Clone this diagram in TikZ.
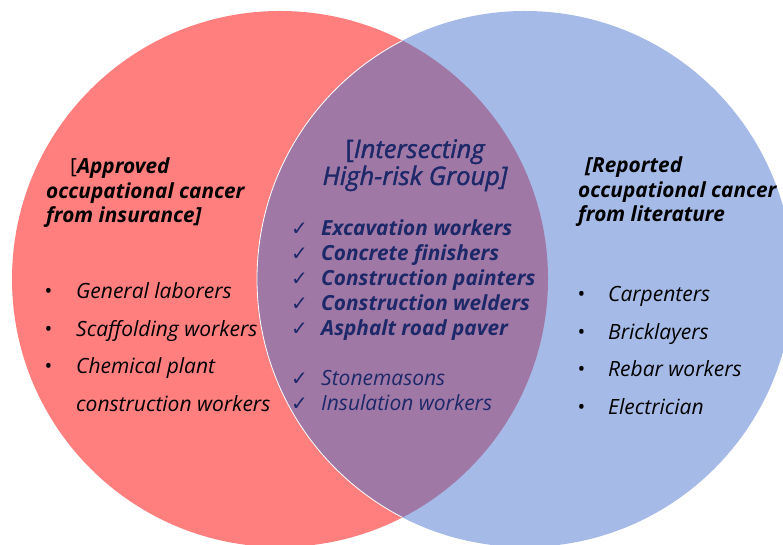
\documentclass[tikz,border=0pt]{standalone}
\usepackage{fontspec}
\setmainfont{Open Sans}
\newfontfamily\medfont{Open Sans}[FakeBold=1.5]
\newfontfamily\symfont{DejaVu Sans}
\usetikzlibrary{positioning}

\definecolor{vennred}{RGB}{255,127,127}
\definecolor{vennblue}{RGB}{165,186,230}
\definecolor{vennmix}{RGB}{160,120,166}
\definecolor{navy}{RGB}{28,40,104}

\newcommand{\bul}[1]{\makebox[#1][l]{\textbullet}}
\newcommand{\chk}{\makebox[30pt][l]{\symfont\mdseries\upshape\fontsize{20}{20}\selectfont ✓}}

\begin{document}
\begin{tikzpicture}[x=1pt,y=1pt,
    head/.style={align=left, inner sep=0pt,
      font=\fontsize{20.8}{24.5}\selectfont\bfseries\itshape},
    listitem/.style={inner sep=0pt, anchor=base west,
      font=\fontsize{21}{24}\selectfont\itshape},
    checkitem/.style={listitem, text=navy,
      font=\fontsize{20.8}{24}\selectfont\bfseries\itshape}]
  \useasboundingbox (0,0) rectangle (783,545);
  \coordinate (RED) at (280,266);
  \coordinate (BLUE) at (525,266);

  % CIRCLES
  \fill[vennred] (RED) circle[radius=268];
  \fill[vennblue] (BLUE) circle[radius=268];
  \begin{scope}
    \clip (RED) circle[radius=268];
    \fill[vennmix] (BLUE) circle[radius=268];
    \draw[white, line width=0.8pt] (BLUE) circle[radius=268];
  \end{scope}

  % HEADERS (base = last line)
  \node[head, anchor=base west] (APPROVED) at (46,322)
  {\hspace*{24pt}{\mdseries\upshape[}Approved\\
    occupational cancer\\
    from insurance]};
  \node[head, anchor=base, align=center, text=navy,
    font=\fontsize{25.5}{27}\medfont\itshape] (INTERSECT) at (415,360)
  {{\upshape[}Intersecting\\
    High-risk Group]};
  \node[head, anchor=base west] (REPORTED) at (578,323)
  {\hspace*{7pt}[Reported\\
    occupational cancer\\
    from literature};

  % LEFT LIST
  \node[listitem] (GENERAL) at (44,246) {\bul{32pt}General laborers};
  \node[listitem, below=37.5pt of GENERAL.base west, anchor=base west] (SCAFFOLD)
  {\bul{32pt}Scaffolding workers};
  \node[listitem, below=37.5pt of SCAFFOLD.base west, anchor=base west] (CHEMICAL)
  {\bul{32pt}Chemical plant};
  \node[listitem, below=37.5pt of CHEMICAL.base west, anchor=base west,
    xshift=32pt] (CHEMICAL_2)
  {construction workers};

  % MIDDLE LIST
  \node[checkitem] (EXCAVATION) at (291,309) {\chk Excavation workers};
  \node[checkitem, below=25pt of EXCAVATION.base west, anchor=base west] (CONCRETE)
  {\chk Concrete finishers};
  \node[checkitem, below=25pt of CONCRETE.base west, anchor=base west] (PAINTERS)
  {\chk Construction painters};
  \node[checkitem, below=25pt of PAINTERS.base west, anchor=base west] (WELDERS)
  {\chk Construction welders};
  \node[checkitem, below=25pt of WELDERS.base west, anchor=base west] (ASPHALT)
  {\chk Asphalt road paver};
  \node[listitem, text=navy, below=50pt of ASPHALT.base west, anchor=base west] (STONE)
  {\chk Stonemasons};
  \node[listitem, text=navy, below=25pt of STONE.base west, anchor=base west] (INSULATION)
  {\chk Insulation workers};

  % RIGHT LIST
  \node[listitem] (CARPENTERS) at (577,243) {\bul{31pt}Carpenters};
  \node[listitem, below=37.5pt of CARPENTERS.base west, anchor=base west] (BRICK)
  {\bul{31pt}Bricklayers};
  \node[listitem, below=37.5pt of BRICK.base west, anchor=base west] (REBAR)
  {\bul{31pt}Rebar workers};
  \node[listitem, below=37.5pt of REBAR.base west, anchor=base west] (ELECTRIC)
  {\bul{31pt}Electrician};
\end{tikzpicture}
\end{document}
